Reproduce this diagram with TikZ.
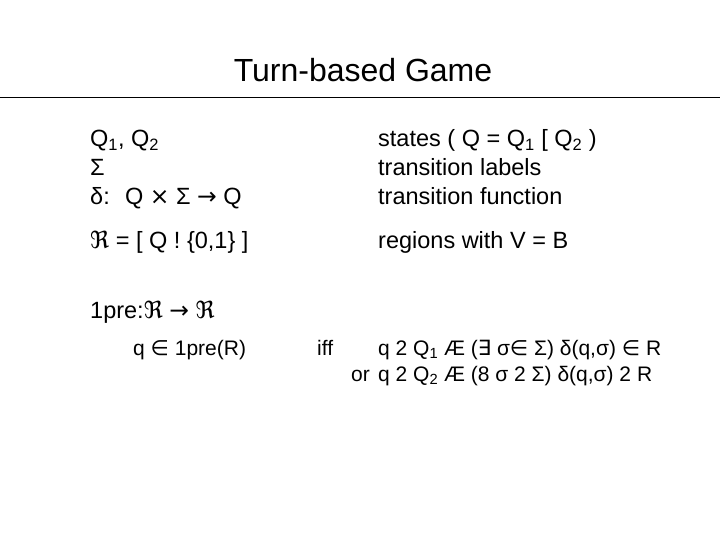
\documentclass[tikz,border=0pt]{standalone}
\usepackage{fontspec}
\setmainfont{Liberation Sans}
\newfontfamily\symf{DejaVu Sans}
\newcommand{\sy}[1]{{\symf #1}}
\newcommand{\sbs}[1]{\textsubscript{#1}}
\begin{document}
\begin{tikzpicture}[x=1pt,y=-1pt,
  txt/.style={anchor=base west,inner sep=0pt,font=\fontsize{23.5}{28}\selectfont},
  cond/.style={txt,font=\fontsize{21}{25}\selectfont},
  ttl/.style={anchor=base,inner sep=0pt,font=\fontsize{32}{38}\selectfont}]
\useasboundingbox (0,0) rectangle (720,540);
\node[ttl] (title) at (363,82) {Turn-based Game};
\draw[line width=0.8pt] (0,97) -- (720,97);

% definitions
\node[txt] (qs) at (90,147) {Q\sbs{1}, Q\sbs{2}};
\node[txt] (sig) at (90,176) {Σ};
\node[txt] (del) at (90,205) {δ:~ Q \sy{×} Σ \sy{→} Q};
\node[txt] (reg) at (90,248) {\sy{ℜ} = [ Q ! \{0,1\} ]};
\node[txt] (states) at (378,147) {states ( Q = Q\sbs{1} [ Q\sbs{2} )};
\node[txt] (labels) at (378,176) {transition labels};
\node[txt] (func) at (378,205) {transition function};
\node[txt] (regv) at (378,248) {regions with V = B};

% 1pre
\node[txt] (pre) at (90,318) {1pre:\sy{ℜ} \sy{→} \sy{ℜ}};
\node[cond] (qin) at (133,355) {q \sy{∈} 1pre(R)};
\node[cond] (iff) at (317,355) {iff};
\node[cond] (one) at (378,355) {q 2 Q\sbs{1} Æ (\sy{∃} σ\sy{∈} Σ) δ(q,σ) \sy{∈} R};
\node[cond,anchor=base east] (or) at (370,381) {or};
\node[cond] (two) at (378,381) {q 2 Q\sbs{2} Æ (8 σ 2 Σ) δ(q,σ) 2 R};
\end{tikzpicture}
\end{document}
